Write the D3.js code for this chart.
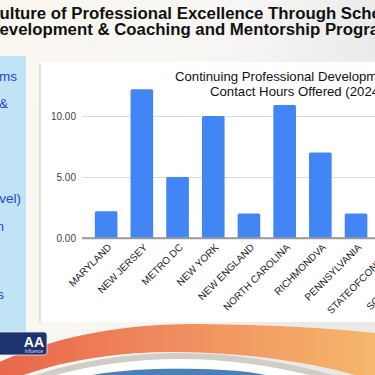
<!DOCTYPE html>
<html>
<head>
<meta charset="utf-8">
<script src="https://cdn.jsdelivr.net/npm/d3@7"></script>
<style>
  html, body { margin: 0; padding: 0; background: #fff; }
  svg { display: block; font-family: Arial, "Liberation Sans", sans-serif; }
</style>
</head>
<body>
<script>
// chart data
const regions = ['MARYLAND', 'NEW JERSEY', 'METRO DC', 'NEW YORK', 'NEW ENGLAND',
                 'NORTH CAROLINA', 'RICHMONDVA', 'PENNSYLVANIA', 'STATEOFCONNECT', 'SOUTH CAROLINA'];
const hours = [2.2, 12.2, 5, 10, 2, 10.9, 7, 2, 3, 4];
const yTicks = [0, 5, 10];

// slide text
const slideTitle = ['Culture of Professional Excellence Through School',
                    'Development & Coaching and Mentorship Programs'];
const chartTitle = ['Continuing Professional Development',
                    'Contact Hours Offered (2024-2025)'];
const sideLines = [
  { text: 'Mentorship Programs', x: 17, y: 81 },
  { text: 'Coaching &', x: 8, y: 108 },
  { text: '(Advanced Level)', x: 21, y: 203 },
  { text: 'Certification', x: 4, y: 231 },
  { text: 'Workshops', x: 4, y: 299 }
];

const W = 375, H = 375;
const svg = d3.select('body').append('svg')
    .attr('width', W)
    .attr('height', H);

const defs = svg.append('defs');
const bg = defs.append('linearGradient').attr('id', 'bg')
    .attr('x1', 0).attr('y1', 0).attr('x2', 1).attr('y2', 0.3);
bg.append('stop').attr('offset', '0%').attr('stop-color', '#fbf7f0');
bg.append('stop').attr('offset', '60%').attr('stop-color', '#f7f6f4');
bg.append('stop').attr('offset', '100%').attr('stop-color', '#e9e9e9');

const org = defs.append('linearGradient').attr('id', 'org')
    .attr('x1', 0).attr('y1', 0).attr('x2', 1).attr('y2', 0);
org.append('stop').attr('offset', '0%').attr('stop-color', '#e8654a');
org.append('stop').attr('offset', '45%').attr('stop-color', '#f08c5e');
org.append('stop').attr('offset', '100%').attr('stop-color', '#f6b96c');

// slide background
svg.append('rect').attr('width', W).attr('height', H).attr('fill', 'url(#bg)');

// title
svg.append('g').selectAll('text')
    .data(slideTitle)
    .join('text')
    .attr('x', -12.6)
    .attr('y', (d, i) => 19 + i * 15.5)
    .attr('font-size', 16.8)
    .attr('font-weight', 'bold')
    .attr('fill', '#111')
    .text(d => d);

// left blue panel
svg.append('rect')
    .attr('x', 0).attr('y', 56)
    .attr('width', 26).attr('height', 299)
    .attr('fill', '#c0e3f5');

svg.append('g').selectAll('text')
    .data(sideLines)
    .join('text')
    .attr('x', d => d.x)
    .attr('y', d => d.y)
    .attr('text-anchor', 'end')
    .attr('font-size', 13.5)
    .attr('fill', '#1f45d8')
    .text(d => d.text);

// chart frame
svg.append('rect')
    .attr('x', 40).attr('y', 62)
    .attr('width', 345).attr('height', 260)
    .attr('fill', '#fff');
svg.append('line')
    .attr('x1', 40).attr('x2', 40)
    .attr('y1', 64).attr('y2', 322)
    .attr('stroke', '#cfcfcf').attr('stroke-width', 1.2);

// scales
const step = 35.7;
const x0 = 88.3;
const x = d3.scaleBand()
    .domain(regions)
    .range([x0, x0 + step * regions.length])
    .paddingInner(0.366)
    .paddingOuter(0.183);

const y = d3.scaleLinear()
    .domain([0, 10])
    .range([238, 116]);

// gridlines + y labels
const yAxis = svg.append('g')
    .attr('transform', 'translate(82,0)')
    .call(d3.axisLeft(y)
        .tickValues(yTicks)
        .tickSize(-320)
        .tickPadding(6)
        .tickFormat(d3.format('.2f')));
yAxis.select('.domain').remove();
yAxis.selectAll('.tick line')
    .attr('stroke', d => d === 0 ? '#9a9a9a' : '#dcdcdc')
    .attr('stroke-width', d => d === 0 ? 1.5 : 1);
yAxis.selectAll('.tick text')
    .attr('font-size', 10)
    .attr('font-family', 'Arial, "Liberation Sans", sans-serif')
    .attr('fill', '#444');

// bars
svg.append('g').selectAll('path')
    .data(regions)
    .join('path')
    .attr('fill', '#4285f4')
    .attr('d', (d, i) => {
      const bx = x(d), bw = x.bandwidth();
      const top = y(hours[i]), base = y(0), r = 1.5;
      return `M${bx},${base}V${top + r}Q${bx},${top} ${bx + r},${top}` +
             `H${bx + bw - r}Q${bx + bw},${top} ${bx + bw},${top + r}V${base}Z`;
    });
// redraw baseline on top of bars
svg.append('line')
    .attr('x1', 82).attr('x2', 402)
    .attr('y1', y(0)).attr('y2', y(0))
    .attr('stroke', '#9a9a9a').attr('stroke-width', 1.5);

// x labels
const xAxis = svg.append('g')
    .attr('transform', `translate(0,${y(0)})`)
    .call(d3.axisBottom(x).tickSize(0).tickPadding(0));
xAxis.select('.domain').remove();
xAxis.selectAll('.tick text')
    .attr('font-size', 10)
    .attr('font-family', 'Arial, "Liberation Sans", sans-serif')
    .attr('fill', '#222')
    .attr('text-anchor', 'end')
    .attr('y', 0)
    .attr('dy', 0)
    .attr('transform', 'translate(6,10) rotate(-45)');

// chart title
svg.append('g').selectAll('text')
    .data(chartTitle)
    .join('text')
    .attr('x', (d, i) => i === 0 ? 175 : 210)
    .attr('y', (d, i) => 81 + i * 15)
    .attr('font-size', 13.2)
    .attr('fill', '#111')
    .text(d => d);

// bottom swoosh
svg.append('path')
    .attr('fill', '#cfcdc6')
    .attr('d', 'M-5,392 C40,368 110,353 180,353 C250,353 320,368 385,392 L385,400 L-5,400 Z');
svg.append('path')
    .attr('fill', '#ffffff')
    .attr('d', 'M-5,398 C40,374 110,359 180,359 C250,359 320,374 385,398 L385,400 L-5,400 Z');
svg.append('path')
    .attr('fill', '#4a7fb8')
    .attr('d', 'M70,380 C110,369 160,368 200,369 C235,370 260,372 285,380 Z');
svg.append('path')
    .attr('fill', 'url(#org)')
    .attr('d', 'M-5,364 C50,338 120,323 200,324 C275,325 330,328 385,334 ' +
               'L385,384 C320,362 250,353 175,352 C110,352 50,362 -5,386 Z');

// logo
const logo = svg.append('g');
logo.append('rect')
    .attr('x', -10).attr('y', 332)
    .attr('width', 57).attr('height', 23)
    .attr('rx', 3)
    .attr('fill', '#1f3270')
    .attr('stroke', '#e8e8f0').attr('stroke-width', 0.8);
logo.append('text')
    .attr('x', 44).attr('y', 347)
    .attr('text-anchor', 'end')
    .attr('font-size', 14).attr('font-weight', 'bold')
    .attr('fill', '#fff')
    .text('AA');
logo.append('text')
    .attr('x', 43).attr('y', 353)
    .attr('text-anchor', 'end')
    .attr('font-size', 4.5)
    .attr('fill', '#dde')
    .text('Influence');
</script>
</body>
</html>
